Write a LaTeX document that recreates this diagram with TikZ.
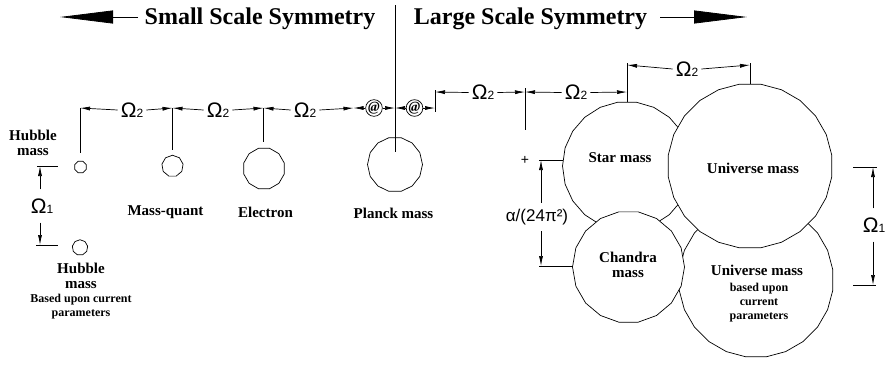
\documentclass[tikz,border=0pt]{standalone}
\usepackage{fontspec}
\setmainfont{Liberation Serif}
\newfontfamily\arialf{Liberation Sans}
\usetikzlibrary{arrows.meta,shapes.geometric}
\newcommand{\OmSub}[1]{{\arialf\fontsize{21}{21}\selectfont Ω\fontsize{12}{12}\selectfont #1}}
\begin{document}
\begin{tikzpicture}[x=1pt,y=-1pt,
  ln/.style={line width=0.7pt},
  dimarr/.style={ln,-{Latex[length=10pt,width=4pt]}},
  om/.style={inner xsep=3pt,inner ysep=0pt},
  omv/.style={inner xsep=0pt,inner ysep=9pt},
  lab/.style={font=\bfseries\fontsize{15}{15}\selectfont, align=center, inner sep=0},
  smalllab/.style={font=\bfseries\fontsize{12}{14}\selectfont, align=center, inner sep=0},
  ball/.style={draw, ln, regular polygon, inner sep=0, fill=white},
  atc/.style={draw, circle, ln, inner sep=0pt, minimum size=14pt, font=\bfseries\itshape\fontsize{14}{14}\selectfont},
  big/.style={font=\bfseries\fontsize{24}{24}\selectfont, inner sep=0, anchor=base},
  bigarr/.style={line width=0.8pt,-{Triangle[length=53pt,width=13pt]}}
]
\useasboundingbox (0,0) rectangle (886,365);

% ---------- top headings ----------
\node[big] (small) at (260,24) {Small Scale Symmetry};
\node[big] (large) at (530.5,24) {Large Scale Symmetry};
\coordinate (sl0) at (138,17); \coordinate (sl1) at (60,17);
\coordinate (lg0) at (660,17); \coordinate (lg1) at (747,17);
\draw[bigarr] (sl0) -- (sl1);
\draw[bigarr] (lg0) -- (lg1);

% ---------- masses ----------
\node[ball, regular polygon sides=8, minimum size=12.5pt] (hub1) at (80.5,167) {};
\node[ball, regular polygon sides=9, minimum size=15.5pt] (hub2) at (80,247.5) {};
\node[ball, regular polygon sides=9, minimum size=21.5pt] (mq) at (172.5,166) {};
\node[ball, regular polygon sides=12, minimum size=42pt] (el) at (264,168.5) {};
\node[ball, regular polygon sides=14, minimum size=55pt] (pl) at (395,164.5) {};

\node[ball, regular polygon sides=22, minimum size=129pt] (star) at (627,166) {};
\node[ball, regular polygon sides=24, minimum size=155pt] (uni2) at (756,280) {};
\node[ball, regular polygon sides=24, minimum size=165pt] (uni1) at (750,166) {};
\node[ball, regular polygon sides=18, minimum size=112pt] (ch) at (628.5,267) {};

% ---------- labels ----------
\node[lab] (lhub1) at (33,142.5) {Hubble\\mass};
\node[lab] (lhub2) at (81,275.5) {Hubble\\mass};
\node[smalllab] (lhub2b) at (81,306.5) {Based upon current\\parameters};
\node[lab] (lmq) at (165.5,212) {Mass-quant};
\node[lab] (lel) at (265.5,212) {Electron};
\node[lab] (lpl) at (393.5,213) {Planck mass};
\node[lab] (lstar) at (620,158) {Star mass};
\node[lab] (luni1) at (753,168) {Universe mass};
\node[lab] (lch) at (628,265) {Chandra\\mass};
\node[lab] (luni2) at (757,270) {Universe mass};
\node[smalllab] (luni2b) at (759,302.5) {based upon\\current\\parameters};

% ---------- ticks ----------
\coordinate (a0) at (80,108);  \coordinate (a0b) at (80,153);
\coordinate (a1) at (172.5,108); \coordinate (a1b) at (172.5,150);
\coordinate (a2) at (263.5,108); \coordinate (a2b) at (263.5,142);
\coordinate (a3) at (353.5,108);
\coordinate (a4) at (395,108);
\coordinate (pt) at (395,5); \coordinate (pb) at (395,152);
\coordinate (a5) at (435,108); \coordinate (a5t) at (435,90); \coordinate (a5b) at (435,112);
\coordinate (b0) at (435,92);
\coordinate (b1) at (525,92); \coordinate (b1t) at (525,88); \coordinate (b1b) at (525,130);
\coordinate (b2) at (627,92); \coordinate (b2t) at (627,63);
\coordinate (c0) at (627,65);
\coordinate (c1) at (750,65); \coordinate (c1t) at (750,63);

\draw[ln] (a0) -- (a0b);
\draw[ln] (a1) -- (a1b);
\draw[ln] (a2) -- (a2b);
\draw[ln] (pt) -- (pb);
\draw[ln] (a5t) -- (a5b);
\draw[ln] (b1t) -- (b1b);
\draw[ln] (b2t) -- (star.north);
\draw[ln] (c1t) -- (uni1.north);

% ---------- horizontal dimensions ----------
\node[om] (o1) at (132,110) {\OmSub{2}};
\draw[dimarr] (o1.west) -- (a0); \draw[dimarr] (o1.east) -- (a1);
\node[om] (o2) at (218,110) {\OmSub{2}};
\draw[dimarr] (o2.west) -- (a1); \draw[dimarr] (o2.east) -- (a2);
\node[om] (o3) at (305,110) {\OmSub{2}};
\draw[dimarr] (o3.west) -- (a2); \draw[dimarr] (o3.east) -- (a3);
\node[atc] (at1) at (374,108) {@};
\draw[dimarr] (at1.west) -- (a3); \draw[dimarr] (at1.east) -- (a4);
\node[atc] (at2) at (414.5,108) {@};
\draw[dimarr] (at2.west) -- (a4); \draw[dimarr] (at2.east) -- (a5);

\node[om] (o4) at (483,92.5) {\OmSub{2}};
\draw[dimarr] (o4.west) -- (b0); \draw[dimarr] (o4.east) -- (b1);
\node[om] (o5) at (576,92.5) {\OmSub{2}};
\draw[dimarr] (o5.west) -- (b1); \draw[dimarr] (o5.east) -- (b2);
\node[om] (o6) at (687,69) {\OmSub{2}};
\draw[dimarr] (o6.west) -- (c0); \draw[dimarr] (o6.east) -- (c1);

% ---------- vertical dimensions ----------
% left Omega1
\coordinate (h1a) at (37,166); \coordinate (h1b) at (58,166);
\coordinate (h2a) at (36,245); \coordinate (h2b) at (58,245);
\coordinate (hv1) at (40,166); \coordinate (hv2) at (40,245);
\draw[ln] (h1a) -- (h1b); \draw[ln] (h2a) -- (h2b);
\node[omv] (w1) at (42,206) {\OmSub{1}};
\draw[dimarr] (w1.north -| hv1) -- (hv1);
\draw[dimarr] (w1.south -| hv2) -- (hv2);

% right Omega1
\coordinate (r1a) at (853,167); \coordinate (r1b) at (877,167);
\coordinate (r2a) at (853,285); \coordinate (r2b) at (876,285);
\coordinate (rv1) at (873,167); \coordinate (rv2) at (873,285);
\draw[ln] (r1a) -- (r1b); \draw[ln] (r2a) -- (r2b);
\node[omv] (w2) at (874,225) {\OmSub{1}};
\draw[dimarr] (w2.north -| rv1) -- (rv1);
\draw[dimarr] (w2.south -| rv2) -- (rv2);

% alpha dimension
\node[inner sep=0, font=\arialf\fontsize{14}{14}\selectfont] (plus) at (525,160) {+};
\coordinate (d1a) at (539,160); \coordinate (d1b) at (563,160);
\coordinate (d2a) at (539,266); \coordinate (d2b) at (573,266);
\coordinate (d1) at (541,160); \coordinate (d2) at (541,266);
\draw[ln] (d1a) -- (d1b); \draw[ln] (d2a) -- (d2b);
\node[inner xsep=0pt, inner ysep=6pt, font=\arialf\fontsize{17}{17}\selectfont] (al) at (537,217) {α/(24π²)};
\draw[dimarr] (al.north -| d1) -- (d1);
\draw[dimarr] (al.south -| d2) -- (d2);
\end{tikzpicture}
\end{document}
